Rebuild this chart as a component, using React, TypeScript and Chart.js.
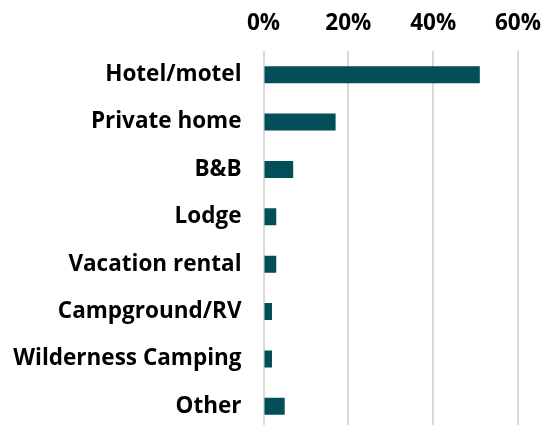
import React, { useEffect, useRef } from "react";
import { Chart, registerables } from "chart.js";

Chart.register(...registerables);

const categories = [
  "Hotel/motel",
  "Private home",
  "B&B",
  "Lodge",
  "Vacation rental",
  "Campground/RV",
  "Wilderness Camping",
  "Other",
];
const shares = [51, 17, 7, 3, 3, 2, 2, 5];
const xTicks = [0, 20, 40, 60];

const FONT = "'Open Sans', 'Noto Sans', sans-serif";

export default function App() {
  const ref = useRef<HTMLCanvasElement | null>(null);
  useEffect(() => {
    document.body.style.margin = "0";
    document.body.style.overflow = "hidden";
    const ctx = ref.current!;
    const chart = new Chart(ctx, {
      type: "bar",
      data: {
        labels: categories,
        datasets: [
          {
            data: shares,
            backgroundColor: "#024f59",
            barPercentage: 0.72,
            categoryPercentage: 0.5,
          },
        ],
      },
      options: {
        indexAxis: "y",
        animation: false,
        responsive: false,
        maintainAspectRatio: false,
        layout: { padding: { left: 9, right: 34, top: -4, bottom: 0 } },
        plugins: { legend: { display: false }, tooltip: { enabled: false } },
        scales: {
          x: {
            position: "top",
            min: 0,
            max: 60,
            afterBuildTicks: (axis: any) => {
              axis.ticks = xTicks.map((v) => ({ value: v }));
            },
            afterFit: (scale: any) => {
              scale.paddingLeft = 0;
              scale.paddingRight = 0;
            },
            grid: { color: "#d9d9d9", lineWidth: 2, drawTicks: false },
            border: { display: false },
            ticks: {
              padding: 14,
              color: "#000",
              font: { family: FONT, size: 22.5, weight: "bold" },
              callback: (v: any) => v + "%",
            },
          },
          y: {
            grid: { display: false, drawTicks: false },
            border: { display: false },
            afterFit: (scale: any) => {
              scale.paddingTop = 0;
              scale.paddingBottom = 0;
            },
            ticks: {
              padding: 22,
              color: "#000",
              font: { family: FONT, size: 22.5, weight: "bold" },
            },
          },
        },
      },
    });
    return () => chart.destroy();
  }, []);
  return (
    <div style={{ position: "absolute", left: 0, top: 0 }}>
      <canvas ref={ref} width={552} height={430} style={{ display: "block" }} />
    </div>
  );
}
